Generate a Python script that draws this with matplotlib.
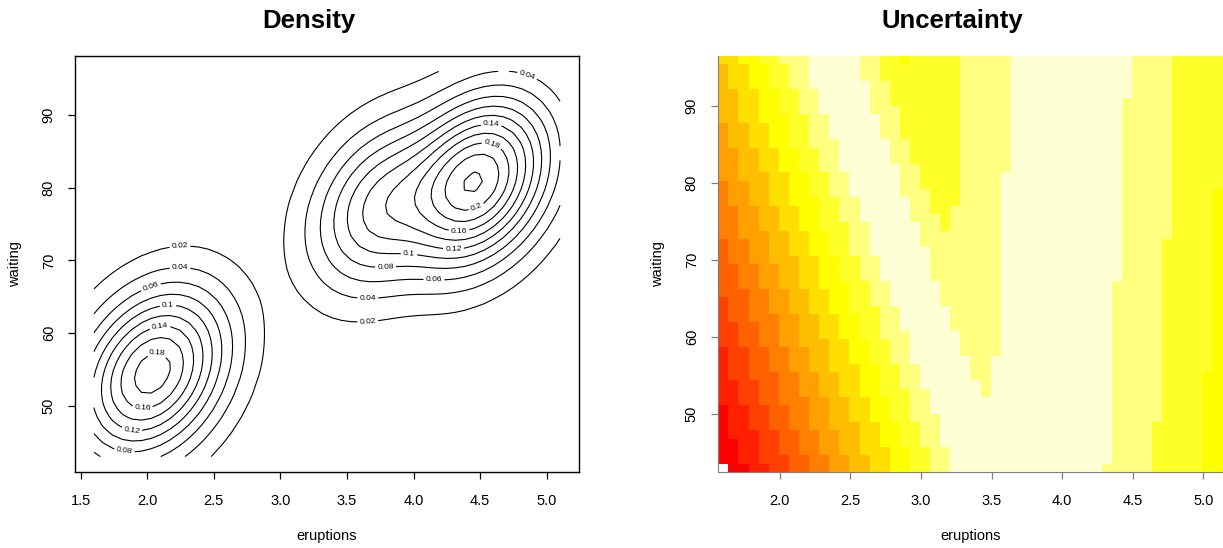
import numpy as np
import matplotlib
matplotlib.use("Agg")
import matplotlib.pyplot as plt
from matplotlib.colors import ListedColormap, BoundaryNorm

plt.rcParams['font.family'] = ['Liberation Sans', 'DejaVu Sans']

# Mischungsmodell (EEE, 3 Komponenten) fuer eruptions / waiting
pro = [0.1656784, 0.3563696, 0.4779520]
mean_eruptions = [3.793066, 2.037596, 4.463245]
mean_waiting = [77.521051, 54.491158, 80.833439]
sigma = [[0.07825448, 0.4801979],
         [0.4801979, 33.7671464]]

# Wertebereich der Daten (Gitter 50 x 50)
eruptions_range = [1.6, 5.1]
waiting_range = [43, 96]
n_grid = 50

density_levels = [0.02, 0.04, 0.06, 0.08, 0.10, 0.12, 0.14, 0.16, 0.18, 0.20, 0.22]
tick_x_density = [1.5, 2.0, 2.5, 3.0, 3.5, 4.0, 4.5, 5.0]
tick_x_unc = [2.0, 2.5, 3.0, 3.5, 4.0, 4.5, 5.0]
tick_y = [50, 60, 70, 80, 90]

# heat.colors(12)
heat_colors = ["#FF0000", "#FF2000", "#FF4000", "#FF6000", "#FF8000", "#FF9F00",
               "#FFBF00", "#FFDF00", "#FFFF00", "#FFFF2A", "#FFFF80", "#FFFFD5"]

# wo die Konturbeschriftungen sitzen (wie in der Vorlage)
label_spots = [(2.245, 71.9), (2.245, 68.8), (2.03, 66.2), (2.156, 63.7), (2.10, 60.6),
               (2.08, 56.4), (1.962, 50.0), (1.887, 46.8), (1.829, 43.8),
               (3.656, 61.6), (3.656, 64.85), (4.852, 95.4), (4.153, 67.4), (3.79, 68.85),
               (3.965, 70.7), (4.30, 71.75), (4.583, 88.4), (4.341, 74.4), (4.583, 85.4),
               (4.462, 77.6)]

gx = np.linspace(eruptions_range[0], eruptions_range[1], n_grid)
gy = np.linspace(waiting_range[0], waiting_range[1], n_grid)
X, Y = np.meshgrid(gx, gy)

S = np.array(sigma)
S_inv = np.linalg.inv(S)
log_norm = -np.log(2 * np.pi) - 0.5 * np.log(np.linalg.det(S))

logdens = []
for k in range(len(pro)):
    dx = X - mean_eruptions[k]
    dy = Y - mean_waiting[k]
    q = S_inv[0, 0] * dx * dx + 2 * S_inv[0, 1] * dx * dy + S_inv[1, 1] * dy * dy
    logdens.append(np.log(pro[k]) + log_norm - 0.5 * q)
logdens = np.array(logdens)

# Dichte (sqrt-Transformation)
dens = np.sqrt(np.exp(logdens).sum(axis=0))

# Unsicherheit (log-Transformation), E-Schritt wie in mclust:
# Anteile unter log(eps) werden auf 0 gesetzt
smalog = np.log(np.finfo(float).eps)
diff = logdens - logdens.max(axis=0)
ez = np.where(diff >= smalog, np.exp(diff), 0.0)
z = ez * (1.0 / ez.sum(axis=0))
unc = 1 - z.max(axis=0)
with np.errstate(divide='ignore'):
    log_unc = np.log(unc)
log_unc[~np.isfinite(log_unc)] = np.nan
log_unc = np.ma.masked_invalid(log_unc)

fig = plt.figure(figsize=(12.23, 5.48), dpi=100)

# ---------- Density ----------
ax1 = fig.add_axes([75.3 / 1223, 1 - 472 / 548, (578.7 - 75.3) / 1223, (472 - 56) / 548])
cs = ax1.contour(X, Y, dens, levels=density_levels, colors='black', linewidths=0.8)
ax1.clabel(cs, fmt='%g', fontsize=6, inline=True, inline_spacing=3, manual=label_spots)
span_x = eruptions_range[1] - eruptions_range[0]
span_y = waiting_range[1] - waiting_range[0]
ax1.set_xlim(eruptions_range[0] - 0.04 * span_x, eruptions_range[1] + 0.04 * span_x)
ax1.set_ylim(waiting_range[0] - 0.04 * span_y, waiting_range[1] + 0.04 * span_y)
ax1.set_xticks(tick_x_density)
ax1.set_xticklabels(['%.1f' % t for t in tick_x_density])
ax1.set_yticks(tick_y)
ax1.set_yticklabels([str(t) for t in tick_y], rotation=90, va='center')
for sp in ax1.spines.values():
    sp.set_linewidth(1.0)
ax1.tick_params(direction='out', length=5, width=0.9, labelsize=10.5, pad=11)
ax1.tick_params(axis='y', pad=9)
ax1.set_xlabel('eruptions', fontsize=10.5, labelpad=15)
ax1.set_ylabel('waiting', fontsize=10.5, labelpad=14)
fig.text(308.8 / 1223, 1 - 28.3 / 548, 'Density', fontsize=18.5, fontweight='bold',
         ha='center', va='baseline')

# ---------- Uncertainty ----------
ax2 = fig.add_axes([718.3 / 1223, 1 - 472 / 548, (1222.6 - 718.3) / 1223, (472 - 56) / 548])
lo, hi = np.nanmin(log_unc), np.nanmax(log_unc)
bounds = np.linspace(lo, hi, len(heat_colors) + 1)
cmap = ListedColormap(heat_colors)
cmap.set_bad('white')
norm = BoundaryNorm(bounds, cmap.N)
ax2.pcolormesh(gx, gy, log_unc, cmap=cmap, norm=norm, shading='nearest')
hx = (gx[1] - gx[0]) / 2
hy = (gy[1] - gy[0]) / 2
ax2.set_xlim(gx[0] - hx, gx[-1] + hx)
ax2.set_ylim(gy[0] - hy, gy[-1] + hy)
ax2.set_xticks(tick_x_unc)
ax2.set_xticklabels(['%.1f' % t for t in tick_x_unc])
ax2.set_yticks(tick_y)
ax2.set_yticklabels([str(t) for t in tick_y], rotation=90, va='center')
ax2.spines['top'].set_visible(False)
ax2.spines['right'].set_visible(False)
ax2.spines['left'].set_color('#7f7f7f')
ax2.spines['bottom'].set_color('#7f7f7f')
ax2.tick_params(direction='out', length=5, width=0.9, color='#7f7f7f', labelsize=10.5, pad=11)
ax2.tick_params(axis='y', pad=9)
ax2.set_xlabel('eruptions', fontsize=10.5, labelpad=15)
ax2.set_ylabel('waiting', fontsize=10.5, labelpad=14)
fig.text(952.5 / 1223, 1 - 28.3 / 548, 'Uncertainty', fontsize=18.5, fontweight='bold',
         ha='center', va='baseline')

fig.savefig('out.png', dpi=100)
